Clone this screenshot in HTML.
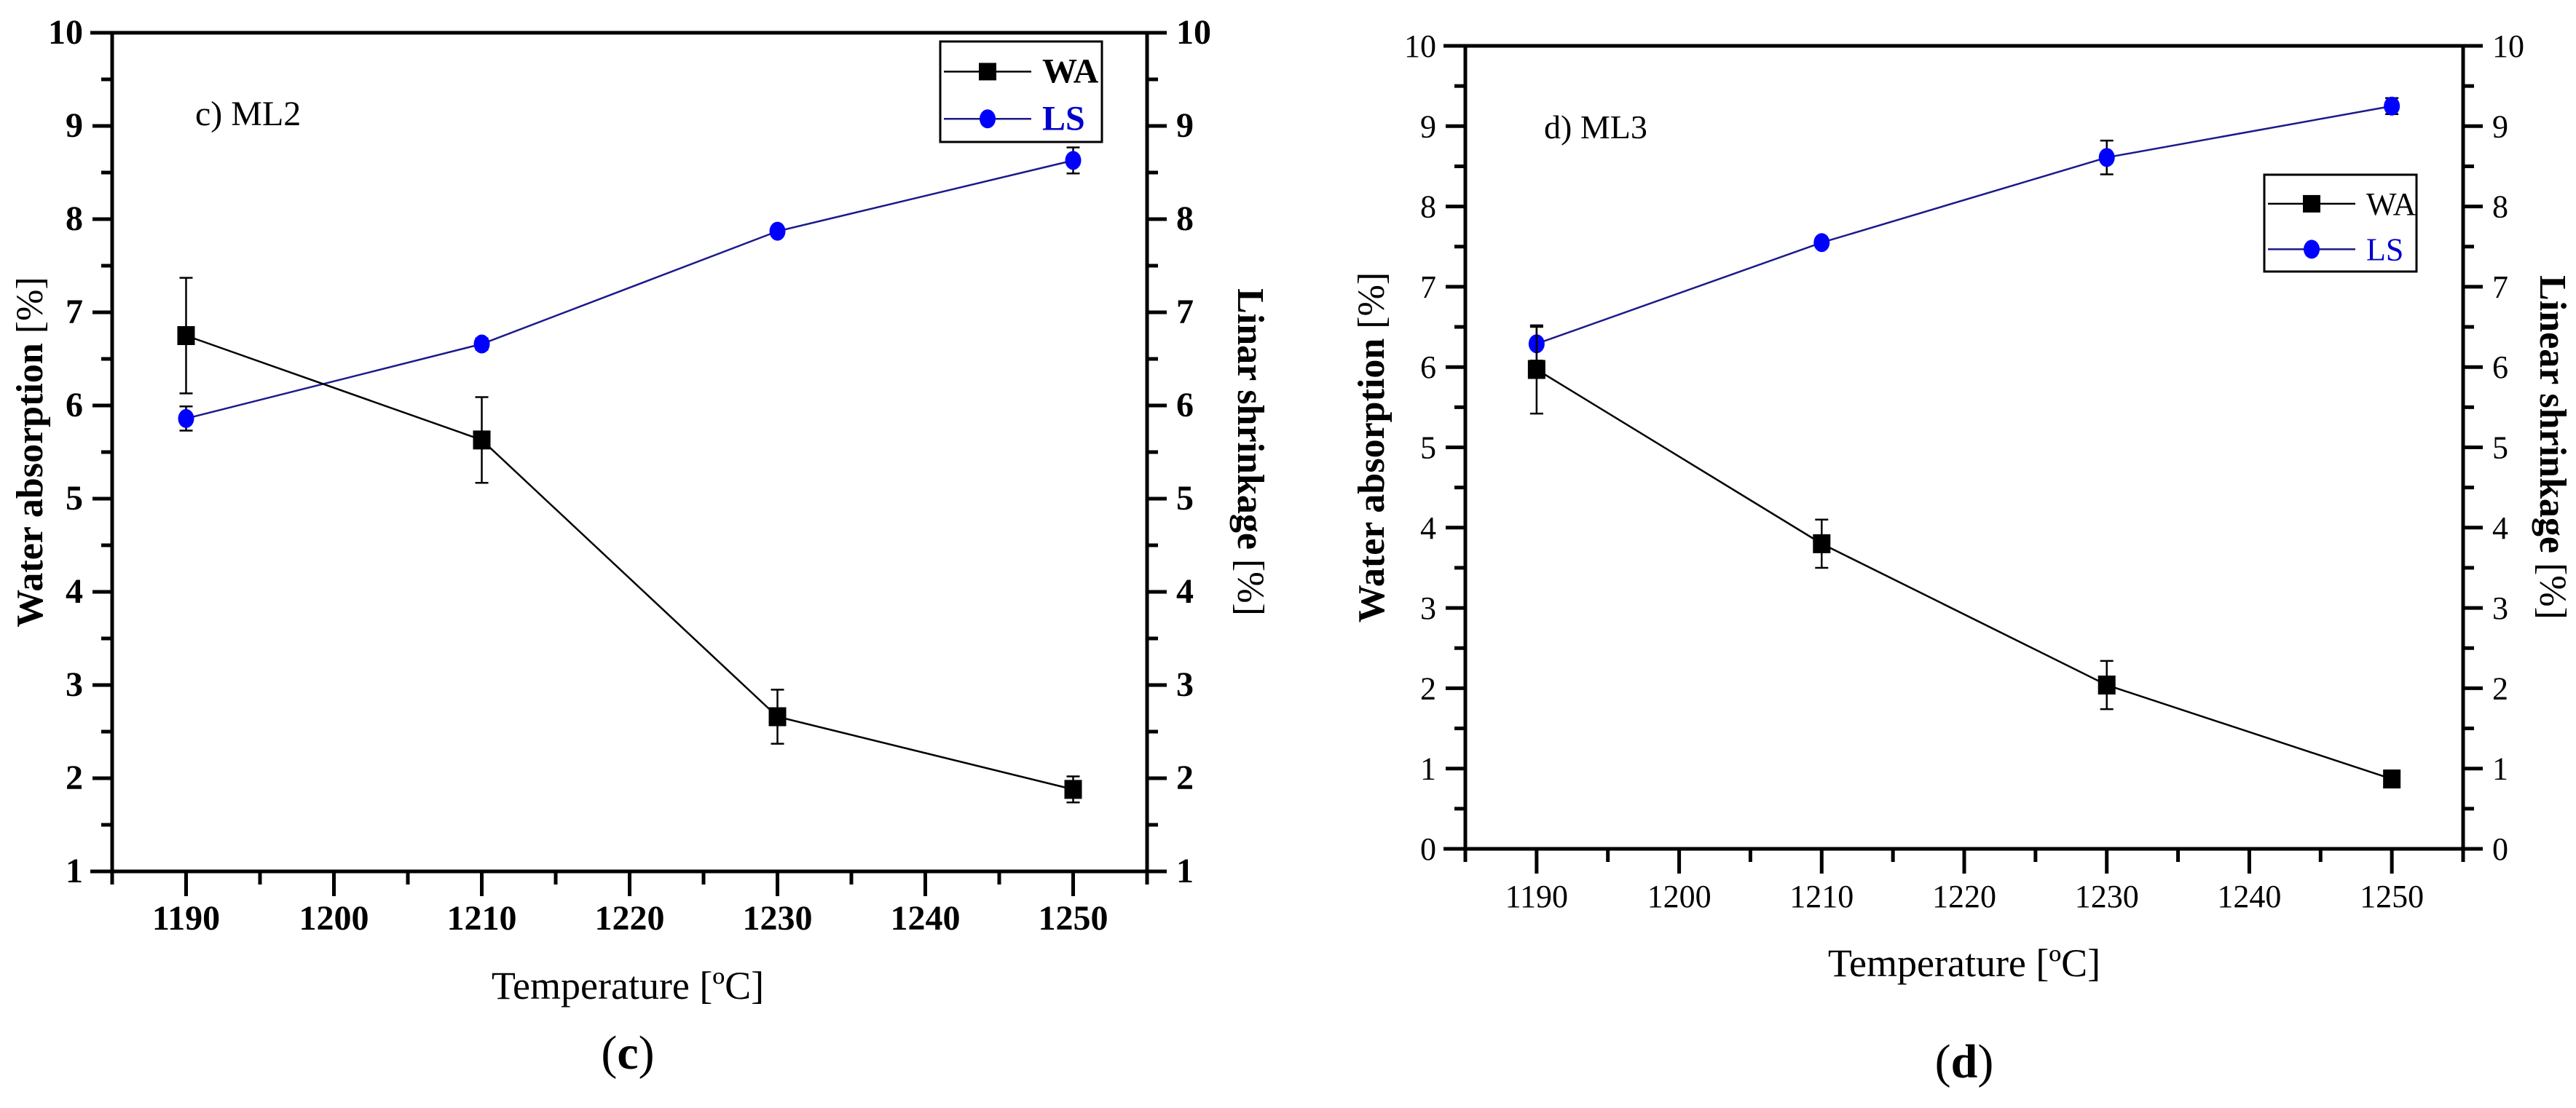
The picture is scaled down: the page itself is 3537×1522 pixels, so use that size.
<!DOCTYPE html>
<html><head><meta charset="utf-8"><style>
html,body{margin:0;padding:0;background:#fff;}
svg{display:block;font-family:"Liberation Serif",serif;}
</style></head><body>
<svg id="fig" width="3537" height="1522" viewBox="0 0 3537 1522" xmlns="http://www.w3.org/2000/svg"></svg>
<script>
// ---- data ----
const temps = [1190, 1210, 1230, 1250];
const xTicks = [1190, 1200, 1210, 1220, 1230, 1240, 1250];
const waC = [6.75, 5.63, 2.66, 1.88];
const waCErr = [0.62, 0.46, 0.29, 0.14];
const lsC = [5.86, 6.66, 7.87, 8.63];
const lsCErr = [0.13, 0.06, 0.05, 0.14];
const waD = [5.97, 3.80, 2.04, 0.87];
const waDErr = [0.55, 0.30, 0.30, 0.09];
const lsD = [6.29, 7.55, 8.61, 9.25];
const lsDErr = [0.21, 0.05, 0.21, 0.10];
const yTicksC = [1,2,3,4,5,6,7,8,9,10];
const yTicksD = [0,1,2,3,4,5,6,7,8,9,10];

const NS = "http://www.w3.org/2000/svg";
const svg = document.getElementById('fig');
function mk(tag, attrs, parent, text){
  const e = document.createElementNS(NS, tag);
  for (const k in attrs) e.setAttribute(k, attrs[k]);
  if (text !== undefined) e.textContent = text;
  (parent || svg).appendChild(e);
  return e;
}

function chart(cfg){
  const g = mk('g', {});
  
  
  const xs = v => cfg.L + (v - 1185) / 70 * (cfg.R - cfg.L);
  const ys = v => cfg.B - (v - cfg.ymin) / (cfg.ymax - cfg.ymin) * (cfg.B - cfg.T);
  const fw = cfg.tickBold ? 'bold' : 'normal';
  const ax = mk('g', {stroke:'#000','stroke-width':5,fill:'none'}, g);
  
  
  mk('line', {x1:cfg.L-30, y1:cfg.B, x2:cfg.R+20, y2:cfg.B}, ax);
  mk('line', {x1:cfg.L-30, y1:cfg.T, x2:cfg.R+20, y2:cfg.T}, ax);
  mk('line', {x1:cfg.L, y1:cfg.T, x2:cfg.L, y2:cfg.B}, ax);
  mk('line', {x1:cfg.R, y1:cfg.T, x2:cfg.R, y2:cfg.B}, ax);
  const xt = mk('g', {}, g);
  
  
  for (let v = 1185; v <= 1255; v += 5){
    const major = xTicks.includes(v);
    mk('line', {x1:xs(v), y1:cfg.B, x2:xs(v), y2:cfg.B + (major?34:18), stroke:'#000','stroke-width':5}, xt);
  }
  xTicks.forEach(v => {
    const t = mk('text', {x:xs(v), y:cfg.B+80, 'text-anchor':'middle','font-size':cfg.fs,'font-weight':fw}, xt, String(v));
    
    
  });
  const yt = mk('g', {}, g);
  
  
  const ticks = cfg.yTicks;
  for (let i = 0; i < ticks.length; i++){
    const v = ticks[i], y = ys(v);
    mk('line', {x1:cfg.L-27, y1:y, x2:cfg.L, y2:y, stroke:'#000','stroke-width':5}, yt);
    mk('line', {x1:cfg.R, y1:y, x2:cfg.R+27, y2:y, stroke:'#000','stroke-width':5}, yt);
    if (i < ticks.length - 1){
      const m = ys(v + 0.5);
      mk('line', {x1:cfg.L-15, y1:m, x2:cfg.L, y2:m, stroke:'#000','stroke-width':5}, yt);
      mk('line', {x1:cfg.R, y1:m, x2:cfg.R+15, y2:m, stroke:'#000','stroke-width':5}, yt);
    }
    const a = mk('text', {x:cfg.L-40, y:y+15, 'text-anchor':'end','font-size':cfg.fs,'font-weight':fw}, yt, String(v));
    
    
    const b = mk('text', {x:cfg.R+40, y:y+15, 'text-anchor':'start','font-size':cfg.fs,'font-weight':fw}, yt, String(v));
    
    
  }
  function series(vals, errs, color, lineColor, marker, nm){
    const sg = mk('g', {}, g);
    
    
    const pts = temps.map((t,i) => xs(t) + ',' + ys(vals[i])).join(' ');
    mk('polyline', {points:pts, fill:'none', stroke:lineColor, 'stroke-width':2.5}, sg);
    temps.forEach((t,i) => {
      const x = xs(t), y = ys(vals[i]), yt1 = ys(vals[i]+errs[i]), yb = ys(vals[i]-errs[i]);
      mk('line', {x1:x, y1:yt1, x2:x, y2:yb, stroke:'#000','stroke-width':2.5}, sg);
      mk('line', {x1:x-9, y1:yt1, x2:x+9, y2:yt1, stroke:'#000','stroke-width':2.5}, sg);
      mk('line', {x1:x-9, y1:yb, x2:x+9, y2:yb, stroke:'#000','stroke-width':2.5}, sg);
      let m;
      if (marker === 'square') m = mk('rect', {x:x-12, y:y-13, width:24, height:26, fill:color}, sg);
      else m = mk('ellipse', {cx:x, cy:y, rx:11, ry:13, fill:color}, sg);
      
      
    });
  }
  series(cfg.ls, cfg.lsErr, '#0000ff', '#1a1a8c', 'circle', 'ls-series');
  series(cfg.wa, cfg.waErr, '#000', '#000', 'square', 'wa-series');
  const lg = mk('g', {}, g);
  
  
  const [lx1, ly1, lx2, ly2] = cfg.leg;
  mk('rect', {x:lx1, y:ly1, width:lx2-lx1, height:ly2-ly1, fill:'#fff', stroke:'#000','stroke-width':3}, lg);
  const r1 = ly1 + (ly2-ly1)*0.3, r2 = ly1 + (ly2-ly1)*0.77;
  mk('line', {x1:lx1+5, y1:r1, x2:lx1+125, y2:r1, stroke:'#000','stroke-width':2.5}, lg);
  mk('rect', {x:lx1+53, y:r1-12, width:24, height:24, fill:'#000'}, lg);
  mk('text', {x:lx1+140, y:r1+15, 'font-size':cfg.fs, 'font-weight':cfg.legBold?'bold':'normal'}, lg, 'WA');
  mk('line', {x1:lx1+5, y1:r2, x2:lx1+125, y2:r2, stroke:'#1a1a8c','stroke-width':2.5}, lg);
  mk('ellipse', {cx:lx1+65, cy:r2, rx:11, ry:13, fill:'#0000ff'}, lg);
  mk('text', {x:lx1+140, y:r2+15, 'font-size':cfg.fs, fill:'#0000cc', 'font-weight':cfg.legBold?'bold':'normal'}, lg, 'LS');
  const pl = mk('text', {x:cfg.panel[0], y:cfg.panel[1], 'font-size':cfg.panelFs}, g, cfg.panelText);
  
  
  const cy = (cfg.T + cfg.B) / 2;
  const xtit = mk('text', {x:cfg.xTitleX, y:cfg.B+175, 'text-anchor':'middle','font-size':54}, g, 'Temperature [ºC]');
  
  
  const ylt = mk('text', {transform:`translate(${cfg.yl},${cy}) rotate(-90)`, 'text-anchor':'middle','font-size':52}, g);
  
  
  mk('tspan', {'font-weight':'bold'}, ylt, 'Water absorption ');
  mk('tspan', {}, ylt, '[%]');
  const yrt = mk('text', {transform:`translate(${cfg.yr},${cy}) rotate(90)`, 'text-anchor':'middle','font-size':52}, g);
  
  
  mk('tspan', {'font-weight':'bold'}, yrt, cfg.rTitle + '  ');
  mk('tspan', {}, yrt, '[%]');
  const cap = mk('text', {x:cfg.xTitleX, y:cfg.capY, 'text-anchor':'middle','font-size':66}, g);
  
  
  mk('tspan', {}, cap, '(');
  mk('tspan', {'font-weight':'bold'}, cap, cfg.capLetter);
  mk('tspan', {}, cap, ')');
}

chart({name:'chart-c-ml2', L:154, R:1575, T:45, B:1197, ymin:1, ymax:10, yTicks:yTicksC,
  wa:waC, waErr:waCErr, ls:lsC, lsErr:lsCErr, fs:48, tickBold:true, leg:[1291,57,1513,195], legBold:true,
  panel:[268,172], panelFs:48, panelText:'c) ML2', xTitleX:862, yl:58, yr:1700, rTitle:'Linar shrinkage',
  capY:1468, capLetter:'c'});
chart({name:'chart-d-ml3', L:2012, R:3382, T:63, B:1166, ymin:0, ymax:10, yTicks:yTicksD,
  wa:waD, waErr:waDErr, ls:lsD, lsErr:lsDErr, fs:44, tickBold:false, leg:[3109,240,3318,373], legBold:false,
  panel:[2120,190], panelFs:46, panelText:'d) ML3', xTitleX:2697, yl:1900, yr:3488, rTitle:'Linear shrinkage',
  capY:1480, capLetter:'d'});
</script>
</body></html>
